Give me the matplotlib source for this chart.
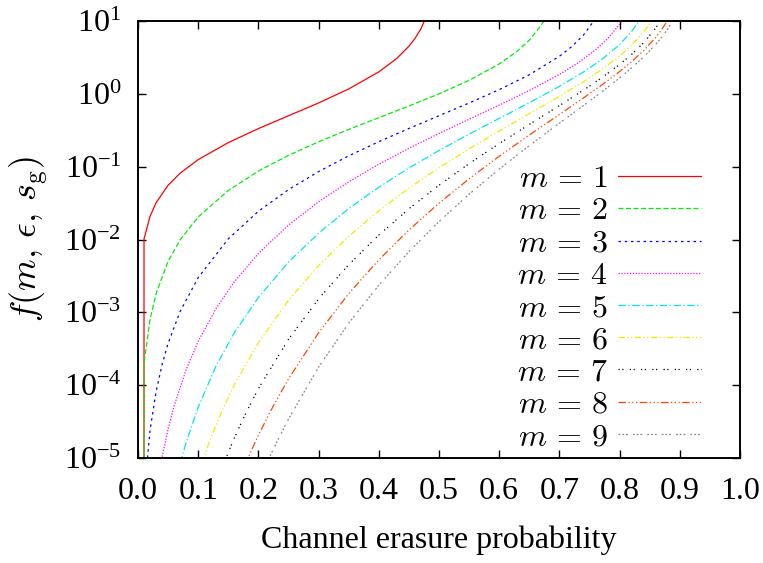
import numpy as np
import matplotlib
matplotlib.use("Agg")
import matplotlib.pyplot as plt
from matplotlib.ticker import LogLocator, FixedLocator, NullFormatter, FuncFormatter

# ---- data ----
eps_m1 = [0.0, 0.01, 0.02, 0.03, 0.05, 0.07, 0.10, 0.15, 0.20, 0.25, 0.30, 0.35, 0.40, 0.43, 0.45, 0.46, 0.47, 0.48]
f_m1 = [0.0, 0.0102, 0.0208, 0.0319, 0.0556, 0.0814, 0.125, 0.214, 0.333, 0.50, 0.75, 1.167, 2.0, 3.07, 4.5, 5.75, 7.83, 12.0]

eps_m2 = [0.0, 0.01, 0.02, 0.03, 0.05, 0.07, 0.10, 0.15, 0.20, 0.25, 0.30, 0.35, 0.40, 0.45, 0.50, 0.55, 0.60, 0.63, 0.65, 0.67, 0.68]
f_m2 = [0.0, 2.0e-4, 8.0e-4, 1.8e-3, 5.03e-3, 9.9e-3, 0.0204, 0.0471, 0.087, 0.143, 0.2195, 0.3245, 0.4706, 0.681, 1.0, 1.532, 2.571, 3.85, 5.45, 8.78, 12.3]

eps_m3 = [0.0, 0.01, 0.02, 0.03, 0.04, 0.05, 0.07, 0.10, 0.15, 0.20, 0.25, 0.30, 0.35, 0.40, 0.45, 0.50, 0.55, 0.60, 0.65, 0.70, 0.72, 0.74, 0.76]
f_m3 = [0.0, 3.0e-6, 2.4e-5, 8.1e-5, 1.92e-4, 3.75e-4, 1.03e-3, 3.0e-3, 0.0102, 0.0244, 0.0484, 0.0856, 0.1407, 0.2202, 0.3343, 0.50, 0.748, 1.141, 1.828, 3.277, 4.417, 6.413, 10.79]

eps_m4 = [0.02, 0.03, 0.04, 0.05, 0.06, 0.08, 0.10, 0.13, 0.16, 0.20, 0.25, 0.30, 0.35, 0.40, 0.45, 0.50, 0.55, 0.60, 0.65, 0.70, 0.73, 0.76, 0.78, 0.80, 0.81]
f_m4 = [6.4e-7, 3.24e-6, 1.02e-5, 2.5e-5, 5.18e-5, 1.64e-4, 4.0e-4, 1.14e-3, 2.62e-3, 6.42e-3, 0.01575, 0.0329, 0.0619, 0.1079, 0.1787, 0.2857, 0.448, 0.700, 1.110, 1.848, 2.629, 4.01, 5.70, 9.06, 12.38]

eps_m5 = [0.05, 0.06, 0.07, 0.08, 0.10, 0.13, 0.16, 0.20, 0.25, 0.30, 0.35, 0.40, 0.45, 0.50, 0.55, 0.60, 0.65, 0.70, 0.74, 0.77, 0.80, 0.82, 0.835]
f_m5 = [1.56e-6, 3.89e-6, 8.4e-6, 1.64e-5, 5.0e-5, 1.86e-4, 5.24e-4, 1.60e-3, 4.89e-3, 0.0122, 0.0265, 0.0523, 0.0958, 0.1667, 0.280, 0.460, 0.7555, 1.266, 1.995, 2.951, 4.754, 7.17, 10.79]

eps_m6 = [0.09, 0.10, 0.11, 0.12, 0.14, 0.16, 0.20, 0.25, 0.30, 0.35, 0.40, 0.45, 0.50, 0.55, 0.60, 0.65, 0.70, 0.74, 0.77, 0.80, 0.82, 0.84, 0.85, 0.855]
f_m6 = [3.19e-6, 6.0e-6, 1.06e-5, 1.79e-5, 4.52e-5, 1.01e-4, 3.84e-4, 1.466e-3, 4.38e-3, 0.01107, 0.02478, 0.0507, 0.0968, 0.1758, 0.3087, 0.533, 0.923, 1.467, 2.144, 3.306, 4.653, 7.087, 9.21, 10.72]

eps_m7 = [0.12, 0.14, 0.15, 0.16, 0.18, 0.20, 0.25, 0.30, 0.35, 0.40, 0.45, 0.50, 0.55, 0.60, 0.65, 0.70, 0.74, 0.77, 0.80, 0.82, 0.84, 0.86, 0.87]
f_m7 = [2.51e-6, 7.38e-6, 1.196e-5, 1.88e-5, 4.29e-5, 8.96e-5, 4.27e-4, 1.53e-3, 4.51e-3, 0.0115, 0.0264, 0.0556, 0.110, 0.2076, 0.3805, 0.690, 1.124, 1.654, 2.529, 3.48, 5.04, 8.01, 10.76]

eps_m8 = [0.15, 0.17, 0.18, 0.19, 0.20, 0.22, 0.25, 0.30, 0.35, 0.40, 0.45, 0.50, 0.55, 0.60, 0.65, 0.70, 0.74, 0.77, 0.80, 0.82, 0.84, 0.86, 0.87, 0.88]
f_m8 = [2.05e-6, 5.58e-6, 8.82e-6, 1.36e-5, 2.05e-5, 4.39e-5, 1.22e-4, 5.25e-4, 1.80e-3, 5.25e-3, 0.0135, 0.0315, 0.0681, 0.139, 0.2723, 0.521, 0.877, 1.313, 2.020, 2.766, 3.933, 5.961, 7.642, 10.25]

eps_m9 = [0.18, 0.20, 0.21, 0.22, 0.23, 0.25, 0.30, 0.35, 0.40, 0.45, 0.50, 0.55, 0.60, 0.65, 0.70, 0.74, 0.77, 0.80, 0.82, 0.84, 0.86, 0.87, 0.88, 0.89]
f_m9 = [1.79e-6, 4.61e-6, 7.15e-6, 1.09e-5, 1.62e-5, 3.43e-5, 1.77e-4, 7.09e-4, 2.36e-3, 6.82e-3, 0.01765, 0.0418, 0.0926, 0.1945, 0.395, 0.691, 1.058, 1.651, 2.269, 3.211, 4.772, 5.992, 7.760, 10.54]

series_eps = [eps_m1, eps_m2, eps_m3, eps_m4, eps_m5, eps_m6, eps_m7, eps_m8, eps_m9]
series_f = [f_m1, f_m2, f_m3, f_m4, f_m5, f_m6, f_m7, f_m8, f_m9]
labels = [r"$m\,=\,%d$" % m for m in range(1, 10)]
x_ticks = [0.0, 0.1, 0.2, 0.3, 0.4, 0.5, 0.6, 0.7, 0.8, 0.9, 1.0]
y_ticks = [1e-5, 1e-4, 1e-3, 1e-2, 1e-1, 1e0, 1e1]
x_label = "Channel erasure probability"
y_label = r"$f(m,\,\epsilon,\,s_{\mathrm{g}})$"

# ---- styles ----
colors = ["#ff0000", "#00ee00", "#0000ff", "#ff00ff", "#00e5ee",
          "#f5e800", "#000000", "#ff4500", "#888888"]
styles = ["-", (0, (4, 2)), (0, (2, 3)), (0, (1, 1.3)), (0, (6, 2, 1, 2)),
          (0, (5, 2, 1, 2, 1, 2)), (0, (1, 2, 1, 5)), (0, (6, 2, 1, 2, 1, 2, 1, 2)),
          (0, (1.5, 1.5, 1.5, 1.5, 1.5, 4))]

plt.rcParams["font.family"] = ["Liberation Serif", "DejaVu Serif"]
plt.rcParams["mathtext.fontset"] = "cm"

fig = plt.figure(figsize=(7.63, 5.63), dpi=100)
ax = fig.add_axes([138 / 763, 1 - 458 / 563, 602 / 763, 437 / 563])
ax.set_yscale("log", nonpositive="clip")

for e, f, c, ls, lab in zip(series_eps, series_f, colors, styles, labels):
    ax.plot(e, f, color=c, linestyle=ls, linewidth=0.9, label=lab)

ax.set_xlim(0.0, 1.0)
ax.set_ylim(1e-5, 1e1)
ax.xaxis.set_major_locator(FixedLocator(x_ticks))
ax.xaxis.set_major_formatter(FuncFormatter(lambda v, p: "%.1f" % v))
ax.yaxis.set_major_locator(FixedLocator(y_ticks))
ax.yaxis.set_minor_locator(LogLocator(base=10, subs=[2, 5, 8]))
ax.yaxis.set_minor_formatter(NullFormatter())
ax.yaxis.set_major_formatter(FuncFormatter(
    lambda v, p: r"$\mathregular{10^{%d}}$" % int(round(np.log10(v)))))

ax.tick_params(axis="both", which="both", direction="in", top=True, right=True)
ax.tick_params(axis="both", which="major", length=6, width=1.0, labelsize=23)
ax.tick_params(axis="y", which="minor", length=3.5, width=1.0)
ax.tick_params(axis="x", which="major", pad=14)
ax.tick_params(axis="y", which="major", pad=12)
for sp in ax.spines.values():
    sp.set_linewidth(1.4)

ax.set_xlabel(x_label, fontsize=23, labelpad=14)
ax.set_ylabel(y_label, fontsize=26, labelpad=10)

leg = ax.legend(loc="upper right", bbox_to_anchor=(0.957, 0.700), frameon=False,
                markerfirst=False, fontsize=23, handlelength=2.6, handletextpad=0.33,
                labelspacing=0.09, borderaxespad=0.0)

fig.savefig("out.png", dpi=100)
